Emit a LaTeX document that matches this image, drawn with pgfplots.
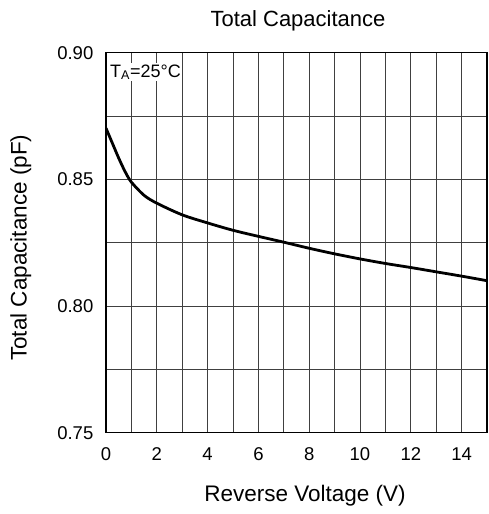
\documentclass[border=0pt]{standalone}
\usepackage{fontspec}
\setmainfont{Liberation Sans}
\usepackage{pgfplots}
\pgfplotsset{compat=1.18}

\begin{document}
\begin{tikzpicture}
\begin{axis}[
    at={(0,0)}, anchor=south west,
    scale only axis,
    width=381pt, height=380pt,
    xmin=0, xmax=15,
    ymin=0.75, ymax=0.90,
    xtick={0,2,...,14},
    minor xtick={1,3,...,15},
    ytick={0.75,0.80,0.85,0.90},
    minor ytick={0.775,0.825,0.875},
    grid=both,
    major tick length=0pt,
    minor tick length=0pt,
    major grid style={black!75, line width=0.9pt},
    minor grid style={black!75, line width=0.9pt},
    axis line style={black, line width=1.5pt},
    /pgf/number format/assume math mode=true,
    xticklabel style={anchor=base, inner sep=0pt, yshift=-27.5pt,
        font=\fontsize{18.5}{22}\selectfont},
    yticklabel style={anchor=east, inner sep=0pt, xshift=-12.5pt,
        font=\fontsize{18.5}{22}\selectfont,
        /pgf/number format/.cd, fixed, fixed zerofill, precision=2},
    clip=true,
]
\addplot[black, line width=2.8pt, smooth, tension=0.5] coordinates {
    (0,0.8702)
    (0.25,0.8643)
    (0.5,0.8584)
    (0.75,0.8531)
    (1,0.8489)
    (1.5,0.8437)
    (2,0.8406)
    (3,0.8360)
    (4,0.8328)
    (5,0.8299)
    (6,0.8275)
    (7,0.8252)
    (8,0.8228)
    (9,0.8206)
    (10,0.8186)
    (11,0.8168)
    (12,0.8152)
    (13,0.8135)
    (14,0.8118)
    (15,0.8100)
};
\node[anchor=base west, fill=white, inner sep=1.5pt, font=\fontsize{18}{21}\selectfont]
    at (axis cs:0.1,0.8904) {T\textsubscript{A}=25°C};
\end{axis}
\node[anchor=base, font=\fontsize{22}{26}\selectfont] at (192pt,405.7pt) {Total Capacitance};
\node[anchor=base, font=\fontsize{22.5}{27}\selectfont] at (199pt,-69pt) {Reverse Voltage (V)};
\node[anchor=base, rotate=90, font=\fontsize{22.5}{27}\selectfont] at (-79.3pt,185pt) {Total Capacitance (pF)};
\pgfresetboundingbox
\path[use as bounding box] (-106pt,-81.3pt) rectangle (383pt,432.7pt);
\end{tikzpicture}
\end{document}
